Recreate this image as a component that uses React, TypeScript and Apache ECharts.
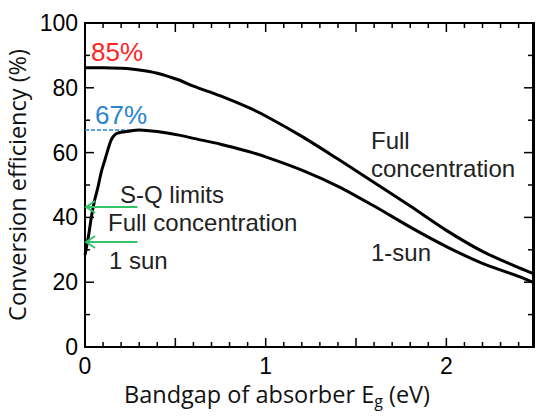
import React, { useEffect, useRef } from "react";
import * as echarts from "echarts";

// ---- data ----
const fullConcE = [0, 0.1, 0.2, 0.3, 0.4, 0.52, 0.6, 0.75, 0.9, 1.0, 1.2, 1.4, 1.6, 1.8, 2.0, 2.2, 2.4, 2.485];
const fullConcEff = [86.2, 86.2, 86.0, 85.5, 84.5, 82.4, 80.5, 77.5, 74.0, 71.3, 65.0, 58.0, 50.8, 43.5, 36.0, 29.5, 24.5, 22.6];

const oneSunE = [0, 0.02, 0.035, 0.05, 0.072, 0.09, 0.11, 0.13, 0.145, 0.16, 0.18, 0.24, 0.3, 0.4, 0.52, 0.6, 0.75, 0.9, 1.0, 1.2, 1.4, 1.6, 1.8, 2.0, 2.2, 2.4, 2.485];
const oneSunEff = [28.4, 34.5, 40.0, 44.5, 49.4, 54.0, 57.7, 61.5, 63.9, 65.2, 66.0, 66.6, 67.0, 66.5, 65.4, 64.4, 62.6, 60.4, 58.7, 54.6, 49.6, 43.5, 37.0, 31.0, 25.8, 21.8, 19.8];

// S-Q limit arrows: start bandgap, tip bandgap, efficiency level
const sqArrowFrom = [0.29, 0.29];
const sqArrowTo = [0.006, 0.006];
const sqArrowLevel = [43.2, 32.4];

const peak1SunLevel = 67;
const peak1SunLineE = [0, 0.29];

// tick values (frame ticks point inward on all four sides)
const xLabelValues = [0, 1, 2];
const xMajorTicks = [0.5, 1, 1.5, 2];
const xMinorTicks = [0.1, 0.2, 0.3, 0.4, 0.6, 0.7, 0.8, 0.9, 1.1, 1.2, 1.3, 1.4, 1.6, 1.7, 1.8, 1.9, 2.1, 2.2, 2.3, 2.4];
const yMajorTicks = [20, 40, 60, 80];
const yMinorTicks = [10, 30, 50, 70, 90];

const X_MIN = 0;
const X_MAX = 2.485;
const Y_MIN = 0;
const Y_MAX = 100;

const LABEL_FONT = "'Liberation Sans', Arial, sans-serif";
const TITLE_FONT = "'Open Sans', Lato, sans-serif";
const GREEN = "#33c46a";
const BLUE = "#2a84d2";
const RED = "#ff2424";

export default function App() {
  const ref = useRef<HTMLDivElement>(null);

  useEffect(() => {
    document.body.style.margin = "0";
    const chart = echarts.init(ref.current!, null, { renderer: "svg" });

    const axisLine = () => ({ show: true, onZero: false, lineStyle: { color: "#000", width: 2 } });
    const fmtX = (v: number) => {
      const r = Math.round(v);
      return Math.abs(v - r) < 1e-6 && xLabelValues.includes(r) ? String(r) : "";
    };

    // frame items: [kind, value]; kind 0 x-major, 1 x-minor, 2 y-major, 3 y-minor, 4 right frame line
    const frameItems: number[][] = [
      ...xMajorTicks.map((v) => [0, v]),
      ...xMinorTicks.map((v) => [1, v]),
      ...yMajorTicks.map((v) => [2, v]),
      ...yMinorTicks.map((v) => [3, v]),
      [4, 0],
    ];

    const option: any = {
      animation: false,
      backgroundColor: "#fff",
      grid: { left: 85, top: 23, width: 449, height: 324, containLabel: false, outerBoundsMode: "none" },
      xAxis: [
        {
          type: "value",
          min: X_MIN,
          max: X_MAX,
          interval: 0.5,
          position: "bottom",
          axisLine: axisLine(),
          axisTick: { show: false },
          splitLine: { show: false },
          axisLabel: { show: true, formatter: fmtX, fontSize: 23, color: "#000", fontFamily: LABEL_FONT, margin: 7 },
        },
        {
          type: "value",
          min: X_MIN,
          max: X_MAX,
          interval: 0.5,
          position: "top",
          axisLine: axisLine(),
          axisTick: { show: false },
          splitLine: { show: false },
          axisLabel: { show: false },
        },
      ],
      yAxis: [
        {
          type: "value",
          min: Y_MIN,
          max: Y_MAX,
          interval: 20,
          position: "left",
          name: "Conversion efficiency (%)",
          nameLocation: "middle",
          nameGap: 50,
          nameTextStyle: { fontSize: 23.5, fontFamily: TITLE_FONT, color: "#111" },
          axisLine: axisLine(),
          axisTick: { show: false },
          splitLine: { show: false },
          axisLabel: { show: true, fontSize: 23, color: "#000", fontFamily: LABEL_FONT, margin: 7 },
        },
        {
          type: "value",
          min: Y_MIN,
          max: Y_MAX,
          interval: 20,
          position: "right",
          axisLine: axisLine(),
          axisTick: { show: false },
          splitLine: { show: false },
          axisLabel: { show: false },
        },
      ],
      series: [
        {
          type: "line",
          name: "Full concentration",
          xAxisIndex: 0,
          yAxisIndex: 0,
          data: fullConcE.map((e, i) => [e, fullConcEff[i]]),
          showSymbol: false,
          smooth: 0.3,
          lineStyle: { color: "#000", width: 3 },
          z: 5,
        },
        {
          type: "line",
          name: "1-sun",
          xAxisIndex: 0,
          yAxisIndex: 0,
          data: oneSunE.map((e, i) => [e, oneSunEff[i]]),
          showSymbol: false,
          smooth: 0.3,
          lineStyle: { color: "#000", width: 3 },
          z: 5,
        },
        {
          type: "line",
          name: "67% level",
          xAxisIndex: 0,
          yAxisIndex: 0,
          data: peak1SunLineE.map((e) => [e, peak1SunLevel]),
          showSymbol: false,
          lineStyle: { color: BLUE, width: 1.5, type: [4, 2] },
          z: 4,
        },
        {
          type: "custom",
          name: "frame ticks",
          xAxisIndex: 0,
          yAxisIndex: 0,
          data: frameItems,
          encode: { x: 1, y: 1 },
          silent: true,
          z: 3,
          renderItem: (_p: any, api: any) => {
            const kind = api.value(0);
            const v = api.value(1);
            const st = { stroke: "#000", lineWidth: 1.5 };
            if (kind === 4) {
              const a = api.coord([X_MAX, Y_MIN]);
              const b = api.coord([X_MAX, Y_MAX]);
              return { type: "line", shape: { x1: a[0] - 1, y1: a[1], x2: b[0] - 1, y2: b[1] }, style: { stroke: "#000", lineWidth: 2 } };
            }
            if (kind <= 1) {
              const len = kind === 0 ? 9 : 5;
              const bot = api.coord([v, Y_MIN]);
              const top = api.coord([v, Y_MAX]);
              return {
                type: "group",
                children: [
                  { type: "line", shape: { x1: bot[0], y1: bot[1], x2: bot[0], y2: bot[1] - len }, style: st },
                  { type: "line", shape: { x1: top[0], y1: top[1], x2: top[0], y2: top[1] + len }, style: st },
                ],
              };
            }
            const len = kind === 2 ? 9 : 5;
            const l = api.coord([X_MIN, v]);
            const r = api.coord([X_MAX, v]);
            return {
              type: "group",
              children: [
                { type: "line", shape: { x1: l[0], y1: l[1], x2: l[0] + len, y2: l[1] }, style: st },
                { type: "line", shape: { x1: r[0] - 1, y1: r[1], x2: r[0] - 1 - len, y2: r[1] }, style: st },
              ],
            };
          },
        },
        {
          type: "custom",
          name: "S-Q limits",
          xAxisIndex: 0,
          yAxisIndex: 0,
          data: sqArrowFrom.map((f, i) => [f, sqArrowTo[i], sqArrowLevel[i]]),
          encode: { x: [0, 1], y: 2 },
          z: 6,
          renderItem: (_p: any, api: any) => {
            const a = api.coord([api.value(0), api.value(2)]);
            const b = api.coord([api.value(1), api.value(2)]);
            return {
              type: "group",
              children: [
                { type: "line", shape: { x1: a[0], y1: a[1], x2: b[0], y2: b[1] }, style: { stroke: GREEN, lineWidth: 2 } },
                {
                  type: "polyline",
                  shape: { points: [[b[0] + 9, b[1] - 6], [b[0], b[1]], [b[0] + 9, b[1] + 6]] },
                  style: { stroke: GREEN, lineWidth: 2, fill: null },
                },
              ],
            };
          },
        },
      ],
      graphic: [
        { type: "text", x: 91, y: 52, style: { text: "85%", font: `26px ${LABEL_FONT}`, fill: RED, textVerticalAlign: "middle" }, z: 10 },
        { type: "text", x: 95, y: 115, style: { text: "67%", font: `26px ${LABEL_FONT}`, fill: BLUE, textVerticalAlign: "middle" }, z: 10 },
        { type: "text", x: 371, y: 140, style: { text: "Full", font: `24px ${LABEL_FONT}`, fill: "#222", textVerticalAlign: "middle" }, z: 10 },
        { type: "text", x: 371, y: 168, style: { text: "concentration", font: `24px ${LABEL_FONT}`, fill: "#222", textVerticalAlign: "middle" }, z: 10 },
        { type: "text", x: 371, y: 252, style: { text: "1-sun", font: `24px ${LABEL_FONT}`, fill: "#222", textVerticalAlign: "middle" }, z: 10 },
        { type: "text", x: 120, y: 194, style: { text: "S-Q limits", font: `24px ${LABEL_FONT}`, fill: "#222", textVerticalAlign: "middle" }, z: 10 },
        { type: "text", x: 108, y: 222, style: { text: "Full concentration", font: `24px ${LABEL_FONT}`, fill: "#222", textVerticalAlign: "middle" }, z: 10 },
        { type: "text", x: 109, y: 260, style: { text: "1 sun", font: `24px ${LABEL_FONT}`, fill: "#222", textVerticalAlign: "middle" }, z: 10 },
        {
          type: "text",
          x: 124,
          y: 394,
          z: 10,
          style: {
            text: "{a|Bandgap of absorber E}{s|g}{a| (eV)}",
            textVerticalAlign: "middle",
            rich: {
              a: { fontSize: 23.5, fontFamily: TITLE_FONT, fill: "#111", color: "#111", lineHeight: 30, verticalAlign: "middle" },
              s: { fontSize: 16, fontFamily: TITLE_FONT, fill: "#111", color: "#111", lineHeight: 30, verticalAlign: "bottom" },
            },
          },
        },
      ],
    };

    chart.setOption(option);
    return () => chart.dispose();
  }, []);

  return <div ref={ref} style={{ position: "fixed", left: 0, top: 0, width: 536, height: 418 }} />;
}
